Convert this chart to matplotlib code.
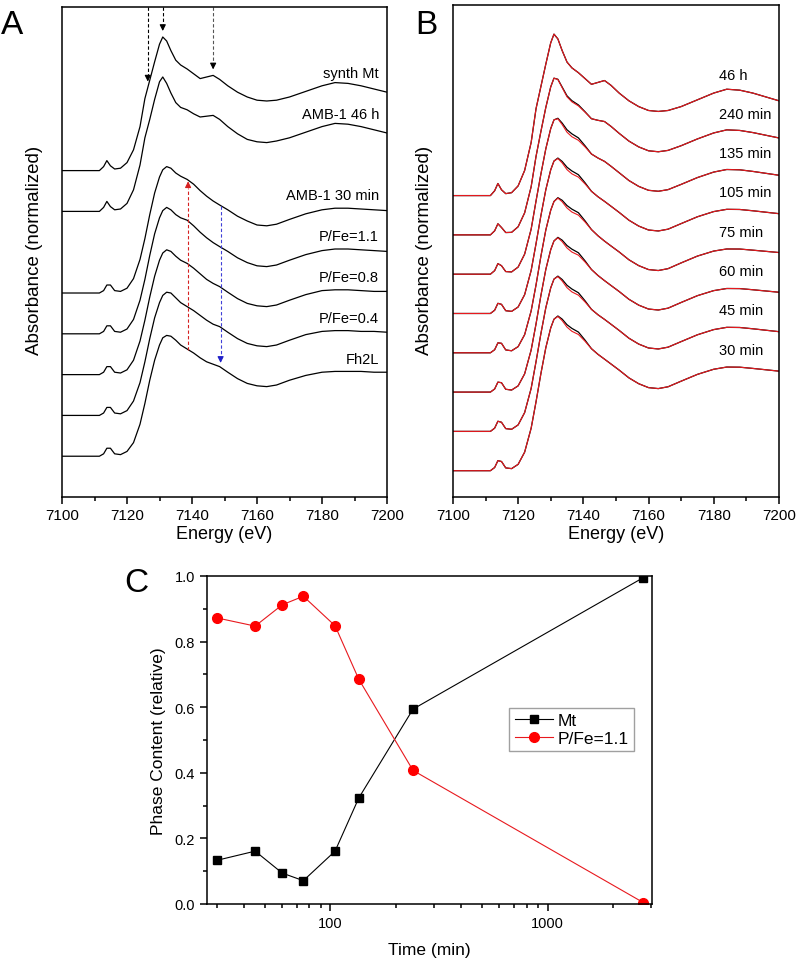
import matplotlib
matplotlib.use("Agg")
import matplotlib.pyplot as plt
import numpy as np
from matplotlib.ticker import MultipleLocator, LogLocator, NullFormatter, FixedLocator

plt.rcParams['font.family'] = ['Liberation Sans', 'DejaVu Sans']

# energy grid (eV) shared by all spectra
energy = [7100, 7108, 7111.5, 7112.8, 7113.8, 7114.9, 7116.2, 7118, 7120, 7122,
          7124, 7125.5, 7127, 7128.5, 7130, 7131, 7132.2, 7133.5, 7135, 7136.5,
          7138.5, 7140.5, 7142.5, 7144.5, 7146.5, 7148.5, 7151, 7154, 7157, 7160,
          7163, 7166, 7170, 7175, 7180, 7184, 7188, 7192, 7196, 7200]

# normalized absorbance, panel A
synth_mt = [0, 0, 0, 0.05, 0.125, 0.06, 0.02, 0.03, 0.10, 0.26,
            0.55, 0.90, 1.13, 1.36, 1.58, 1.67, 1.62, 1.50, 1.38, 1.32,
            1.27, 1.21, 1.15, 1.17, 1.19, 1.14, 1.06, 0.98, 0.92, 0.88,
            0.87, 0.88, 0.92, 0.99, 1.06, 1.10, 1.09, 1.06, 1.02, 0.98]
amb_46h = [0, 0, 0, 0.05, 0.125, 0.06, 0.02, 0.03, 0.10, 0.27,
           0.58, 0.92, 1.15, 1.40, 1.62, 1.68, 1.60, 1.48, 1.36, 1.30,
           1.27, 1.22, 1.18, 1.19, 1.20, 1.15, 1.06, 0.97, 0.90, 0.87,
           0.86, 0.88, 0.92, 0.99, 1.06, 1.10, 1.09, 1.06, 1.02, 0.98]
amb_30min = [0, 0, 0, 0.03, 0.10, 0.10, 0.03, 0.02, 0.06, 0.18,
             0.42, 0.68, 0.98, 1.25, 1.45, 1.54, 1.58, 1.56, 1.50, 1.46,
             1.42, 1.36, 1.28, 1.21, 1.15, 1.10, 1.04, 0.96, 0.90, 0.85,
             0.84, 0.86, 0.92, 0.99, 1.04, 1.06, 1.06, 1.05, 1.04, 1.03]
pfe_11 = [0, 0, 0, 0.03, 0.10, 0.10, 0.03, 0.02, 0.06, 0.18,
          0.42, 0.68, 0.98, 1.25, 1.45, 1.54, 1.58, 1.55, 1.49, 1.45,
          1.42, 1.35, 1.27, 1.20, 1.14, 1.09, 1.03, 0.95, 0.89, 0.85,
          0.84, 0.86, 0.92, 0.99, 1.04, 1.06, 1.06, 1.05, 1.04, 1.03]
pfe_08 = [0, 0, 0, 0.03, 0.10, 0.10, 0.03, 0.02, 0.06, 0.18,
          0.42, 0.68, 0.97, 1.23, 1.43, 1.52, 1.56, 1.54, 1.48, 1.43,
          1.39, 1.33, 1.26, 1.19, 1.14, 1.10, 1.03, 0.95, 0.89, 0.86,
          0.85, 0.87, 0.93, 1.00, 1.05, 1.06, 1.06, 1.05, 1.04, 1.04]
pfe_04 = [0, 0, 0, 0.03, 0.10, 0.10, 0.03, 0.02, 0.06, 0.18,
          0.41, 0.67, 0.96, 1.22, 1.41, 1.50, 1.54, 1.53, 1.47, 1.41,
          1.36, 1.31, 1.25, 1.19, 1.14, 1.11, 1.04, 0.96, 0.90, 0.87,
          0.86, 0.88, 0.94, 1.01, 1.05, 1.06, 1.06, 1.05, 1.05, 1.04]
fh2l = [0, 0, 0, 0.03, 0.10, 0.10, 0.03, 0.02, 0.06, 0.17,
        0.40, 0.66, 0.95, 1.20, 1.39, 1.48, 1.51, 1.50, 1.45, 1.39,
        1.34, 1.29, 1.23, 1.18, 1.15, 1.12, 1.05, 0.97, 0.91, 0.88,
        0.87, 0.89, 0.95, 1.01, 1.05, 1.06, 1.06, 1.06, 1.05, 1.05]

a_names = ["synth Mt", "AMB-1 46 h", "AMB-1 30 min", "P/Fe=1.1", "P/Fe=0.8", "P/Fe=0.4", "Fh2L"]
a_spectra = [synth_mt, amb_46h, amb_30min, pfe_11, pfe_08, pfe_04, fh2l]
a_slots = [8, 7, 5, 4, 3, 2, 1]

# panel C: linear combination fit results
times = [30, 45, 60, 75, 105, 135, 240, 2760]
frac_mt = [0.133, 0.161, 0.094, 0.071, 0.161, 0.323, 0.594, 0.995]
frac_pfe = [0.872, 0.847, 0.912, 0.938, 0.848, 0.685, 0.407, 0.004]
b_names = ["30 min", "45 min", "60 min", "75 min", "105 min", "135 min", "240 min", "46 h"]

# misfit of the data around the 7135 eV shoulder (data minus fit)
resid = [0, 0, 0, 0, 0, 0, 0, 0, 0, 0,
         0, 0, 0, 0, 0, 0, 0.005, 0.015, 0.025, 0.03,
         0.025, 0.012, 0, 0, 0, 0, 0, 0, 0, 0,
         0, 0, 0, 0, 0, 0, 0, 0, 0, 0]
resid_amp = [1.0, 1.0, 1.0, 1.0, 1.0, 1.0, 0.4, 0.0]

fig = plt.figure(figsize=(7.96, 9.62), dpi=100)
axA = fig.add_axes([0.0779, 0.4823, 0.4083, 0.5094])
axB = fig.add_axes([0.569, 0.4823, 0.4095, 0.5115])
axC = fig.add_axes([0.260, 0.0593, 0.559, 0.341])

E = np.array(energy)

def style_xas(ax, ytop):
    ax.set_xlim(7100, 7200)
    ax.set_ylim(0, ytop)
    ax.set_yticks([])
    ax.xaxis.set_major_locator(MultipleLocator(20))
    ax.xaxis.set_minor_locator(MultipleLocator(10))
    ax.tick_params(axis='x', which='major', direction='out', length=5, width=1.1, labelsize=11, pad=3)
    ax.tick_params(axis='x', which='minor', direction='out', length=3, width=1.1)
    for s in ax.spines.values():
        s.set_linewidth(1.1)
    ax.set_xlabel("Energy (eV)", fontsize=13, labelpad=2)

# ---- panel A
step_a = 0.51
for name, spec, slot in zip(a_names, a_spectra, a_slots):
    off = step_a * slot
    axA.plot(E, np.array(spec) + off, color='black', lw=0.9)
    axA.text(7197.5, off + 1.22, name, ha='right', va='center', fontsize=10.5)
style_xas(axA, 6.125)

mt_off = step_a * a_slots[0]
top = 6.125
for e0, col in [(7126.4, 'black'), (7131.0, 'black'), (7146.5, '#555555')]:
    tip = np.interp(e0, E, synth_mt) + mt_off + 0.04
    axA.plot([e0, e0], [top, tip + 0.12], ls=(0, (3, 2)), color=col, lw=0.8)
    axA.annotate('', xy=(e0, tip), xytext=(e0, tip + 0.14),
                 arrowprops=dict(arrowstyle='-|>', color='black', lw=0.8, mutation_scale=9))

off30 = step_a * a_slots[2]
offfh = step_a * a_slots[6]
e_red = 7138.8
y_lo = np.interp(e_red, E, fh2l) + offfh
y_hi = np.interp(e_red, E, amb_30min) + off30 + 0.02
axA.plot([e_red, e_red], [y_lo, y_hi - 0.12], ls=(0, (3, 2)), color='#d62020', lw=0.8)
axA.annotate('', xy=(e_red, y_hi), xytext=(e_red, y_hi - 0.14),
             arrowprops=dict(arrowstyle='-|>', color='#d62020', lw=0.8, mutation_scale=9))
e_blue = 7148.8
y_hi = np.interp(e_blue, E, amb_30min) + off30
y_lo = np.interp(e_blue, E, fh2l) + offfh + 0.02
axA.plot([e_blue, e_blue], [y_hi, y_lo + 0.12], ls=(0, (3, 2)), color='#4040d8', lw=0.8)
axA.annotate('', xy=(e_blue, y_lo), xytext=(e_blue, y_lo + 0.14),
             arrowprops=dict(arrowstyle='-|>', color='#2020c8', lw=0.8, mutation_scale=9))

# ---- panel B
mt = np.array(synth_mt)
pfe = np.array(pfe_11)
for k, (name, fm, fp, amp) in enumerate(zip(b_names, frac_mt, frac_pfe, resid_amp)):
    off = 0.272 + 0.406 * k
    fit = fm * mt + fp * pfe
    data = fit + amp * np.array(resid)
    axB.plot(E, data + off, color='black', lw=0.9)
    axB.plot(E, fit + off, color='#e8191e', lw=0.8)
    axB.text(7181.7, off + 1.25, name, ha='left', va='center', fontsize=10.5)
style_xas(axB, 5.083)

fig.text(35 / 796, 1 - 250 / 962, "Absorbance (normalized)", rotation=90,
         ha='center', va='center', fontsize=13.5)
fig.text(425 / 796, 1 - 250 / 962, "Absorbance (normalized)", rotation=90,
         ha='center', va='center', fontsize=13.5)

# ---- panel C
axC.plot(times, frac_mt, color='black', lw=0.8, marker='s', ms=6, label='Mt')
axC.plot(times, frac_pfe, color='#e8191e', lw=0.8, marker='o', ms=7,
         mfc='#ff0000', mec='#ff0000', label='P/Fe=1.1')
axC.set_xscale('log')
axC.set_xlim(27, 3020)
axC.set_ylim(0, 1.0)
axC.yaxis.set_major_locator(MultipleLocator(0.2))
axC.yaxis.set_minor_locator(MultipleLocator(0.1))
axC.yaxis.set_major_formatter(matplotlib.ticker.FormatStrFormatter('%.1f'))
axC.xaxis.set_major_locator(FixedLocator([100, 1000]))
axC.xaxis.set_major_formatter(matplotlib.ticker.FormatStrFormatter('%d'))
axC.xaxis.set_minor_locator(LogLocator(base=10, subs=np.arange(2, 10)))
axC.xaxis.set_minor_formatter(NullFormatter())
axC.tick_params(which='major', direction='out', length=5, width=1.1, labelsize=10.5)
axC.tick_params(which='minor', direction='out', length=3, width=1.1)
for s in axC.spines.values():
    s.set_linewidth(1.1)
axC.set_xlabel("Time (min)", fontsize=12.5, labelpad=9)
axC.set_ylabel("Phase Content (relative)", fontsize=12.5, labelpad=6)
leg = axC.legend(loc='upper left', bbox_to_anchor=(0.66, 0.625), fontsize=12.5,
                 frameon=True, fancybox=False, edgecolor='#888888', handlelength=2.2,
                 borderpad=0.3, labelspacing=0.15, handletextpad=0.3)
leg.get_frame().set_linewidth(1.0)

fig.text(12 / 796, 1 - 25 / 962, "A", fontsize=24, ha='center', va='center')
fig.text(426 / 796, 1 - 26 / 962, "B", fontsize=24, ha='center', va='center')
fig.text(136 / 796, 1 - 584 / 962, "C", fontsize=24, ha='center', va='center')

fig.savefig("out.png", dpi=100)
